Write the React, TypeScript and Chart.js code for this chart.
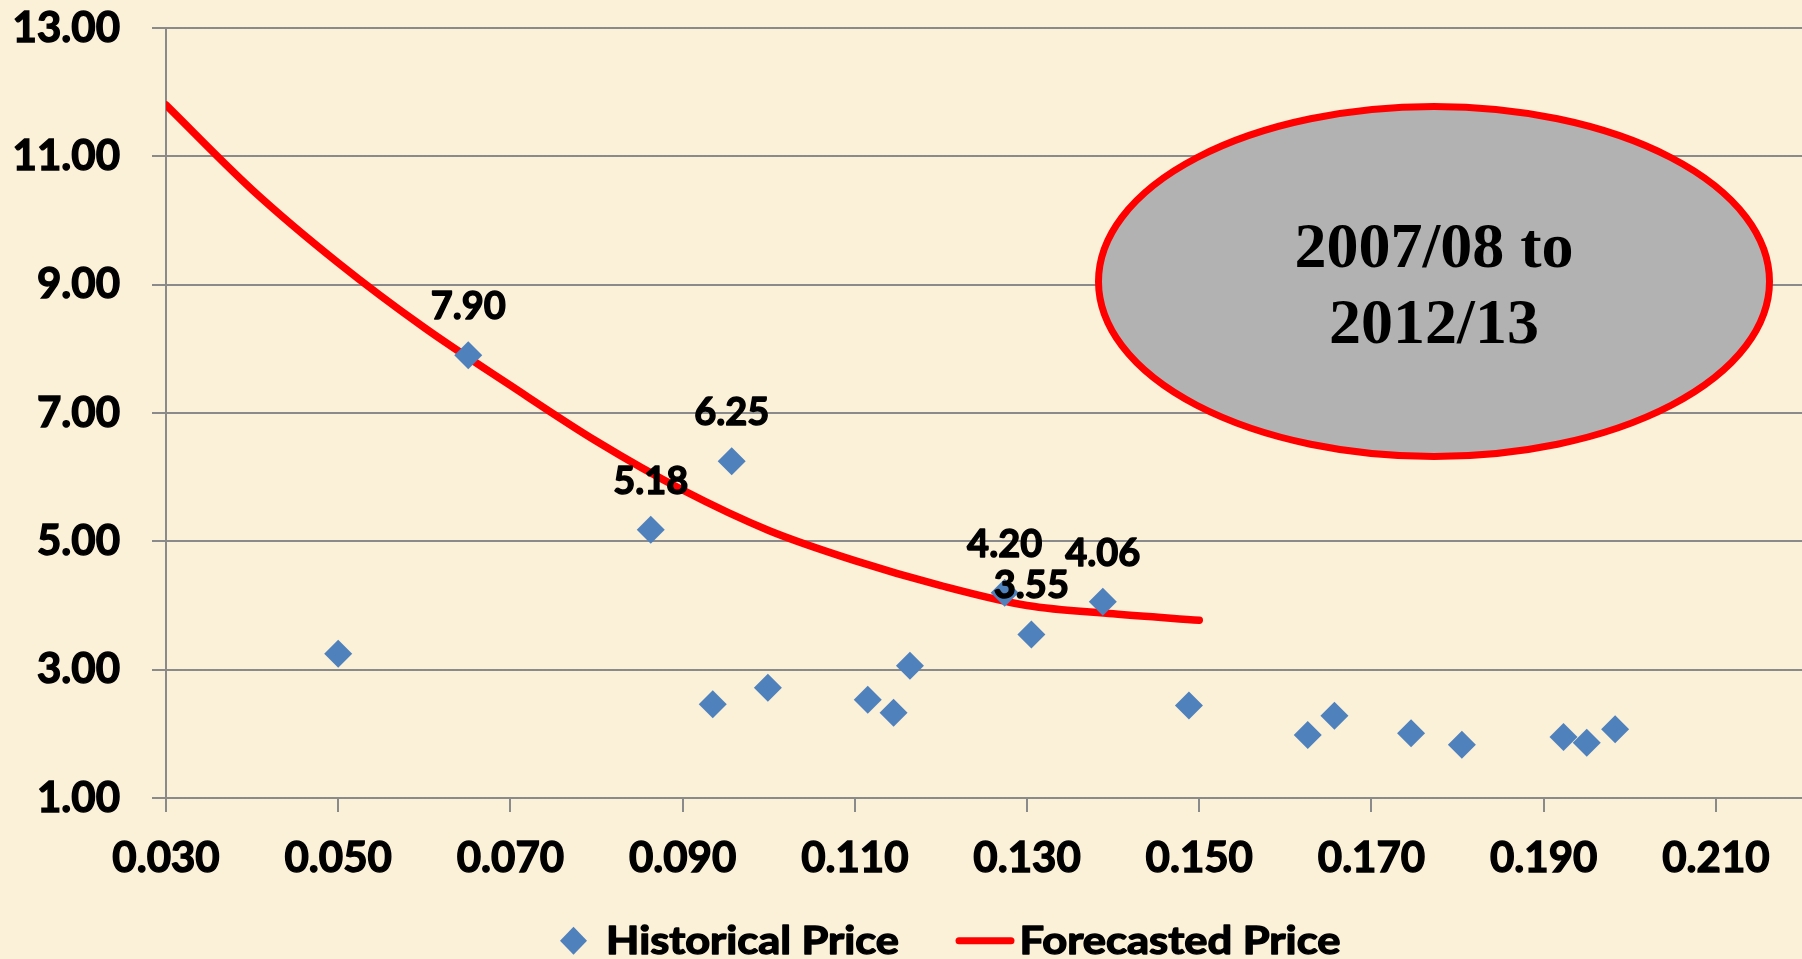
import React, { useEffect, useRef } from "react";
import { Chart, registerables } from "chart.js";

Chart.register(...registerables);

// ---- Data ----
const historicalX = [0.05, 0.0651, 0.0863, 0.0957, 0.0935, 0.0999, 0.1115, 0.1145, 0.1164, 0.1274, 0.1305, 0.1388, 0.1488, 0.1626, 0.1657, 0.1746, 0.1805, 0.1923, 0.195, 0.1983];
const historicalY = [3.25, 7.9, 5.18, 6.25, 2.46, 2.72, 2.53, 2.33, 3.06, 4.2, 3.55, 4.06, 2.44, 1.98, 2.28, 2.01, 1.83, 1.95, 1.86, 2.07];
const historicalLabelled = [false, true, true, true, false, false, false, false, false, true, true, true, false, false, false, false, false, false, false, false];

const forecastX = [0.03, 0.04, 0.05, 0.06, 0.07, 0.08, 0.09, 0.1, 0.11, 0.12, 0.13, 0.14, 0.15];
const forecastY = [11.8, 10.48, 9.34, 8.33, 7.43, 6.56, 5.8, 5.17, 4.7, 4.31, 4.0, 3.87, 3.77];

const xTickValues = [0.03, 0.05, 0.07, 0.09, 0.11, 0.13, 0.15, 0.17, 0.19, 0.21];
const yTickValues = [1, 3, 5, 7, 9, 11, 13];

const seriesNames = ["Historical Price", "Forecasted Price"];
const periodLines = ["2007/08 to", "2012/13"];

const BG = "#FBF0D8";
const GRID = "#8A8A8A";
const BLUE = "#4F81BD";
const RED = "#FF0000";
const FONT = "Lato";
const STROKE = 1.4;

function fitText(ctx: any, text: string, x: number, y: number, targetWidth: number) {
  const w = ctx.measureText(text).width;
  const s = targetWidth / w;
  ctx.save();
  ctx.translate(x, y);
  ctx.scale(s, 1);
  ctx.strokeText(text, 0, 0);
  ctx.fillText(text, 0, 0);
  ctx.restore();
}

const overlayPlugin = {
  id: "overlay",
  beforeDraw(chart: any) {
    const { ctx, width, height } = chart;
    ctx.save();
    ctx.fillStyle = BG;
    ctx.fillRect(0, 0, width, height);
    ctx.restore();
  },
  afterDatasetsDraw(chart: any) {
    const { ctx } = chart;
    // data labels
    const meta = chart.getDatasetMeta(0);
    ctx.save();
    ctx.font = `bold 38px ${FONT}`;
    ctx.fillStyle = "#000";
    ctx.strokeStyle = "#000";
    ctx.lineWidth = STROKE;
    ctx.lineJoin = "round";
    ctx.textAlign = "center";
    ctx.textBaseline = "alphabetic";
    meta.data.forEach((el: any, i: number) => {
      if (historicalLabelled[i]) {
        const t = historicalY[i].toFixed(2);
        ctx.strokeText(t, el.x, el.y - 36);
        ctx.fillText(t, el.x, el.y - 36);
      }
    });
    ctx.restore();

    // ellipse annotation
    ctx.save();
    ctx.beginPath();
    ctx.ellipse(1434, 281.5, 335.5, 175, 0, 0, Math.PI * 2);
    ctx.fillStyle = "#B2B2B2";
    ctx.fill();
    ctx.lineWidth = 7;
    ctx.strokeStyle = RED;
    ctx.stroke();
    ctx.font = `bold 64px "Liberation Serif", "Times New Roman", serif`;
    ctx.fillStyle = "#000";
    ctx.textAlign = "center";
    ctx.textBaseline = "alphabetic";
    ctx.fillText(periodLines[0], 1434, 266.7);
    ctx.fillText(periodLines[1], 1434, 343.3);
    ctx.restore();

    // legend
    ctx.save();
    const ly = 940.7;
    ctx.fillStyle = BLUE;
    ctx.beginPath();
    ctx.moveTo(573.5, ly - 14);
    ctx.lineTo(587, ly);
    ctx.lineTo(573.5, ly + 14);
    ctx.lineTo(560, ly);
    ctx.closePath();
    ctx.fill();
    ctx.strokeStyle = RED;
    ctx.lineWidth = 7;
    ctx.lineCap = "round";
    ctx.beginPath();
    ctx.moveTo(959, ly);
    ctx.lineTo(1011, ly);
    ctx.stroke();
    ctx.font = `bold 39px ${FONT}`;
    ctx.fillStyle = "#000";
    ctx.strokeStyle = "#000";
    ctx.lineWidth = STROKE;
    ctx.lineCap = "butt";
    ctx.lineJoin = "round";
    ctx.textAlign = "left";
    ctx.textBaseline = "alphabetic";
    fitText(ctx, seriesNames[0], 606, 954, 293);
    fitText(ctx, seriesNames[1], 1019.5, 954, 321);
    ctx.restore();
  },
};

export default function App() {
  const ref = useRef<HTMLCanvasElement | null>(null);

  useEffect(() => {
    document.body.style.margin = "0";
    document.body.style.background = BG;
    const canvas = ref.current;
    if (!canvas) return;
    const chart = new Chart(canvas, {
      type: "scatter",
      data: {
        datasets: [
          {
            label: seriesNames[0],
            data: historicalX.map((x, i) => ({ x, y: historicalY[i] })),
            pointStyle: "rectRot",
            pointRadius: 14,
            pointHoverRadius: 14,
            pointBackgroundColor: BLUE,
            pointBorderWidth: 0,
            borderWidth: 0,
            showLine: false,
          },
          {
            label: seriesNames[1],
            data: forecastX.map((x, i) => ({ x, y: forecastY[i] })),
            showLine: true,
            borderColor: RED,
            borderWidth: 7.5,
            borderCapStyle: "round",
            cubicInterpolationMode: "monotone",
            pointRadius: 0,
            pointHoverRadius: 0,
            fill: false,
          },
        ],
      },
      options: {
        responsive: false,
        animation: false,
        devicePixelRatio: 1,
        layout: { autoPadding: false, padding: { top: 28, right: 0, left: 0, bottom: 0 } },
        plugins: {
          legend: { display: false },
          tooltip: { enabled: false },
        },
        scales: {
          x: {
            type: "linear",
            min: 0.03,
            max: 0.22,
            afterBuildTicks: (axis: any) => {
              axis.ticks = xTickValues.map((value) => ({ value }));
            },
            afterFit: (scale: any) => {
              scale.height = 161;
              scale.paddingLeft = 0;
              scale.paddingRight = 0;
            },
            ticks: {
              autoSkip: false,
              maxRotation: 0,
              padding: 21,
              color: "#000",
              textStrokeColor: "#000",
              textStrokeWidth: STROKE,
              font: { family: FONT, weight: "bold", size: 42 },
              callback: (v: any) => Number(v).toFixed(3),
            },
            grid: {
              drawOnChartArea: false,
              drawTicks: true,
              tickLength: 14,
              color: GRID,
              lineWidth: 2,
            },
            border: { display: true, color: GRID, width: 2 },
          },
          y: {
            type: "linear",
            min: 1,
            max: 13,
            afterBuildTicks: (axis: any) => {
              axis.ticks = yTickValues.map((value) => ({ value }));
            },
            afterFit: (scale: any) => {
              scale.width = 166;
              scale.paddingTop = 0;
              scale.paddingBottom = 0;
            },
            ticks: {
              autoSkip: false,
              padding: 32,
              color: "#000",
              textStrokeColor: "#000",
              textStrokeWidth: STROKE,
              font: { family: FONT, weight: "bold", size: 42 },
              callback: (v: any) => Number(v).toFixed(2),
            },
            grid: {
              drawTicks: true,
              tickLength: 14,
              color: GRID,
              lineWidth: 2,
            },
            border: { display: true, color: GRID, width: 2 },
          },
        },
      },
      plugins: [overlayPlugin],
    });
    return () => chart.destroy();
  }, []);

  return (
    <div style={{ width: 1802, height: 959, background: BG }}>
      <canvas ref={ref} width={1802} height={959} style={{ display: "block" }} />
    </div>
  );
}
